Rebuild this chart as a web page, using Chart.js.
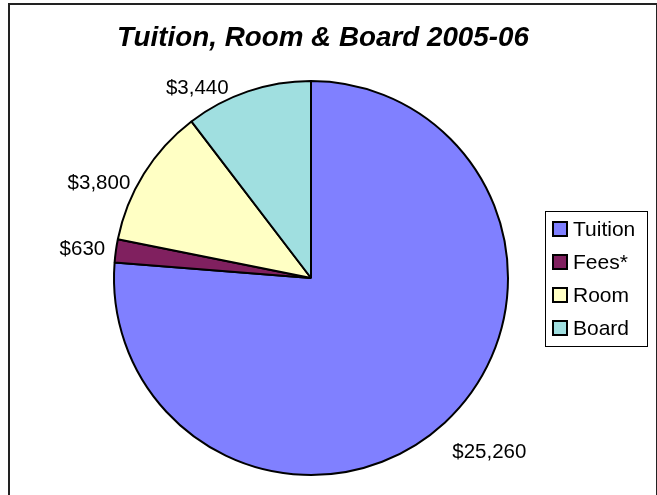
<!DOCTYPE html>
<html lang="en">
<head>
  <meta charset="UTF-8" />
  <title>Tuition, Room &amp; Board 2005-06</title>
  <script src="https://cdn.jsdelivr.net/npm/chart.js"></script>
  <style>
    * { margin: 0; padding: 0; box-sizing: border-box; }
    body { background: #fff; }
    #wrap { position: relative; width: 657px; height: 495px; }
  </style>
</head>
<body>
  <div id="wrap"><canvas id="pieChart"></canvas></div>

  <script>
    // datos
    const chartTitle = 'Tuition, Room & Board 2005-06';
    const categories = ['Tuition', 'Fees*', 'Room', 'Board'];
    const costs = [25260, 630, 3800, 3440];
    const sliceColors = ['#8080ff', '#80205f', '#ffffc4', '#a0dfe0'];

    const FONT = "'Liberation Sans', Arial, sans-serif";

    const money = v => '$' + v.toLocaleString('en-US');

    // marco, titulo, leyenda y etiquetas
    const decor = {
      id: 'decor',
      beforeDraw(chart) {
        const c = chart.ctx;
        c.save();
        c.fillStyle = '#fff';
        c.fillRect(0, 0, chart.width, chart.height);
        c.strokeStyle = '#222';
        c.lineWidth = 2;
        c.strokeRect(9, 4, 648, 520);
        c.restore();
      },
      afterDraw(chart, args, opts) {
        const c = chart.ctx;
        c.save();

        // titulo
        c.fillStyle = '#000';
        c.font = 'italic bold 27.8px ' + FONT;
        c.textAlign = 'center';
        c.textBaseline = 'middle';
        c.fillText(chartTitle, opts.titleX, opts.titleY);

        // etiquetas de valor
        const meta = chart.getDatasetMeta(0);
        c.font = '20.5px ' + FONT;
        meta.data.forEach((arc, i) => {
          const mid = (arc.startAngle + arc.endAngle) / 2;
          const dx = Math.cos(mid), dy = Math.sin(mid);
          const txt = money(costs[i]);
          const hw = c.measureText(txt).width / 2;
          const hh = 7;
          const r = arc.outerRadius + opts.gap;
          const n = opts.nudge[i] || [0, 0];
          const x = arc.x + r * dx + hw * dx + n[0];
          const y = arc.y + r * dy + hh * dy + n[1];
          c.fillText(txt, x, y);
        });

        // leyenda
        const L = opts.legend;
        c.strokeStyle = '#000';
        c.lineWidth = 1;
        c.strokeRect(L.x + 0.5, L.y + 0.5, L.w, L.h);
        c.font = '21px ' + FONT;
        c.textAlign = 'left';
        categories.forEach((name, i) => {
          const cy = L.firstY + i * L.step;
          c.fillStyle = sliceColors[i];
          c.fillRect(L.boxX, cy - L.box / 2, L.box, L.box);
          c.lineWidth = 2;
          c.strokeRect(L.boxX, cy - L.box / 2, L.box, L.box);
          c.fillStyle = '#000';
          c.fillText(name, L.textX, cy + 1);
        });

        c.restore();
      }
    };

    new Chart(document.getElementById('pieChart'), {
      type: 'pie',
      data: {
        labels: categories,
        datasets: [{
          data: costs,
          backgroundColor: sliceColors,
          borderColor: '#000',
          borderWidth: 2,
          hoverBorderWidth: 2,
          hoverOffset: 0,
          offset: 0
        }]
      },
      options: {
        responsive: true,
        maintainAspectRatio: false,
        animation: false,
        events: [],
        layout: { padding: { top: 80, left: 113, right: 148, bottom: 19 } },
        plugins: {
          legend: { display: false },
          title: { display: false },
          tooltip: { enabled: false },
          decor: {
            titleX: 323,
            titleY: 38.5,
            gap: 11,
            nudge: [[12, 16], [0, 1], [-9, 19], [-37, 14]],
            legend: { x: 545, y: 211, w: 102, h: 135, boxX: 553, box: 14, textX: 573, firstY: 229, step: 33 }
          }
        }
      },
      plugins: [decor]
    });
  </script>
</body>
</html>
